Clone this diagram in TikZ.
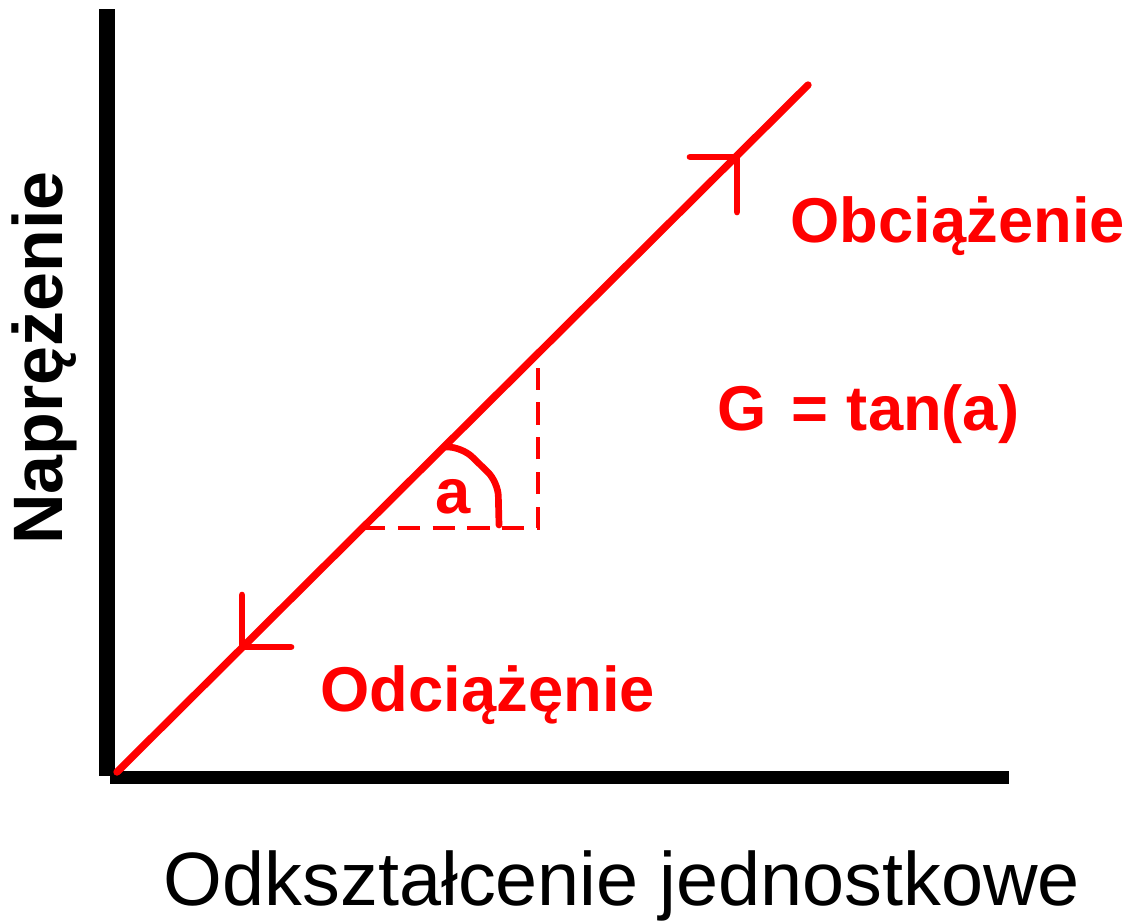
\documentclass[tikz,border=0pt]{standalone}
\usepackage{fontspec}
\setmainfont{Liberation Sans}
\usetikzlibrary{positioning}
\definecolor{loadred}{HTML}{FF0000}

\begin{document}
\begin{tikzpicture}[x=0.01cm, y=-0.01cm,
		axis/.style={draw=black, line width=4.4pt, line cap=butt},
		curve/.style={draw=loadred, line width=2.1pt, line cap=round},
		tick/.style={draw=loadred, line width=1.9pt, line cap=round, line join=round},
		helper/.style={draw=loadred, line width=0.9pt, dash pattern=on 6.3pt off 3.6pt},
		redlabel/.style={text=loadred, font=\fontsize{18}{20}\selectfont\bfseries, inner sep=0pt},
		axislabel/.style={text=black, inner sep=0pt}]
	\useasboundingbox (0,0) rectangle (1142,923);
	% axes
	\coordinate (ytop) at (107,9);
	\coordinate (ybot) at (107,776);
	\coordinate (xleft) at (110,777.5);
	\coordinate (xend) at (1009,777.5);
	\draw[axis] (ytop) -- (ybot);
	\draw[axis, line width=3.7pt] (xleft) -- (xend);
	% loading line
	\coordinate (orig) at (117,772);
	\coordinate (top) at (808,85);
	\draw[curve] (orig) -- (top);
	% direction marks
	\coordinate (upmark) at (737,157);
	\coordinate (upleft) at (690,157);
	\coordinate (updown) at (737,212);
	\draw[tick] (upleft) -- (upmark) -- (updown);
	\coordinate (downmark) at (242,647);
	\coordinate (downup) at (242,595);
	\coordinate (downright) at (291,647);
	\draw[tick] (downup) -- (downmark) -- (downright);
	% slope triangle
	\coordinate (triA) at (363,528);
	\coordinate (triB) at (538,528);
	\coordinate (triC) at (538,355);
	\draw[helper] (triA) -- (triB) -- (triC);
	\coordinate (arcA) at (446,447);
	\coordinate (arcB) at (462,447);
	\coordinate (arcC) at (498,482);
	\coordinate (arcD) at (499,525);
	\draw[tick, rounded corners=4pt] (arcA) -- (arcB) -- (arcC) -- (arcD);
	\node[redlabel, anchor=base] (alpha) at (453,513) {a};
	% labels
	\node[redlabel, anchor=base west] (loading) at (790,242) {Obciążenie};
	\node[redlabel, anchor=base west] (unloading) at (320,711) {Odciążęnie};
	\node[redlabel, anchor=base west] (modulus) at (717,430) {G\hspace{0.38em}=\hspace{0.3em}tan(a)};
	\node[axislabel, font=\fontsize{19.9}{22}\selectfont\bfseries, rotate=90, anchor=base] (stress) at (62,358) {Naprężenie};
	\node[axislabel, font=\fontsize{21.5}{24}\selectfont, anchor=base] (strain) at (622,905) {Odkształcenie jednostkowe};
\end{tikzpicture}
\end{document}
